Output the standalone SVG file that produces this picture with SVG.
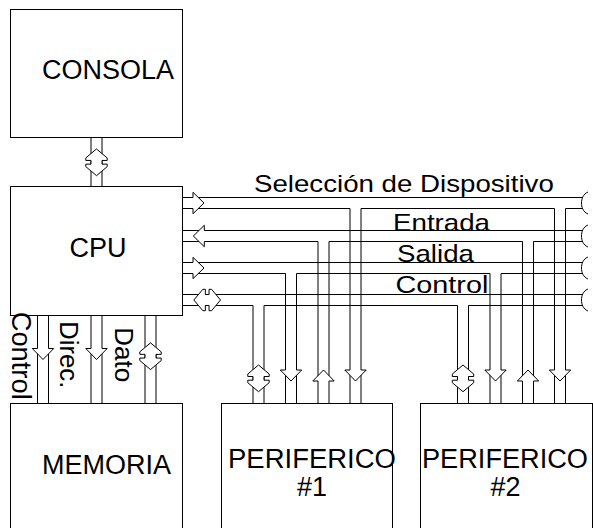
<svg xmlns="http://www.w3.org/2000/svg" width="593" height="528" viewBox="0 0 593 528">
<style>
.box{fill:none;stroke:#000;stroke-width:1}
.ln{fill:none;stroke:#000;stroke-width:1}
.ar{fill:#fff;stroke:#000;stroke-width:1}
.t{font-family:"Liberation Sans",Arial,sans-serif;fill:#000}
</style>
<defs>
<path id="ad" d="M-5.5,0 H-10.7 L0,11 L10.7,0 H5.5"/>
<path id="dd" d="M0,-13.35 L10.7,-4.35 V-1.85 H5.5 V1.85 H10.7 V4.35 L0,13.35 L-10.7,4.35 V1.85 H-5.5 V-1.85 H-10.7 V-4.35 Z"/>
</defs>
<rect width="593" height="528" fill="#fff"/>
<g id="connectors">
<path class="ln" d="M91,137.5 V186.5 M102,137.5 V186.5"/>
<path class="ln" d="M37.5,315.5 V403.5 M48.5,315.5 V403.5 M91,315.5 V403.5 M102,315.5 V403.5 M145,315.5 V403.5 M156,315.5 V403.5"/>
<path class="ln" d="M182.5,197.5 H582.5 M182.5,208.5 H350 M361,208.5 H554.5 M565.5,208.5 H582.5 M350,208.5 V403.5 M361,208.5 V403.5 M554.5,208.5 V403.5 M565.5,208.5 V403.5"/>
<path class="ln" d="M182.5,230.5 H582.5 M182.5,241.5 H318 M329,241.5 H522.5 M533.5,241.5 H582.5 M318,241.5 V403.5 M329,241.5 V403.5 M522.5,241.5 V403.5 M533.5,241.5 V403.5"/>
<path class="ln" d="M182.5,262.5 H582.5 M182.5,273.5 H285.5 M296.5,273.5 H490 M501,273.5 H582.5 M285.5,273.5 V403.5 M296.5,273.5 V403.5 M490,273.5 V403.5 M501,273.5 V403.5"/>
<path class="ln" d="M182.5,294.5 H582.5 M182.5,305.5 H253 M264,305.5 H457.5 M468.5,305.5 H582.5 M253,305.5 V403.5 M264,305.5 V403.5 M457.5,305.5 V403.5 M468.5,305.5 V403.5"/>
<path class="ln" d="M588,192 C583,194 581.5,199 581.5,203 C581.5,207 583,212 588,214"/>
<path class="ln" d="M588,225 C583,227 581.5,232 581.5,236 C581.5,240 583,245 588,247"/>
<path class="ln" d="M588,257 C583,259 581.5,264 581.5,268 C581.5,272 583,277 588,279"/>
<path class="ln" d="M588,289 C583,291 581.5,296 581.5,300 C581.5,304 583,309 588,311"/>
<use href="#dd" class="ar" transform="translate(96.5,162.3)"/>
<use href="#ad" class="ar" transform="translate(193,203) rotate(-90)"/>
<use href="#ad" class="ar" transform="translate(204.3,236) rotate(90)"/>
<use href="#ad" class="ar" transform="translate(193,268) rotate(-90)"/>
<use href="#dd" class="ar" transform="translate(207.2,300) rotate(90)"/>
<use href="#ad" class="ar" transform="translate(43,348.5)"/>
<use href="#ad" class="ar" transform="translate(96.5,348.5)"/>
<use href="#dd" class="ar" transform="translate(150.5,356.2)"/>
<use href="#dd" class="ar" transform="translate(258.5,378.35)"/>
<use href="#ad" class="ar" transform="translate(291,370)"/>
<use href="#ad" class="ar" transform="translate(323.5,381) rotate(180)"/>
<use href="#ad" class="ar" transform="translate(355.5,370)"/>
<use href="#dd" class="ar" transform="translate(463,378.35)"/>
<use href="#ad" class="ar" transform="translate(495.5,370)"/>
<use href="#ad" class="ar" transform="translate(528,381) rotate(180)"/>
<use href="#ad" class="ar" transform="translate(560,370)"/>
<text class="t" font-size="24" transform="translate(254,191.7) scale(1.153,1)">Selección de Dispositivo</text>
<text class="t" font-size="24" transform="translate(393,230.7) scale(1.155,1)">Entrada</text>
<text class="t" font-size="24" transform="translate(397,261.7) scale(1.154,1)">Salida</text>
<text class="t" font-size="24" transform="translate(395.5,293) scale(1.2,1)">Control</text>
<text class="t" font-size="28.5" textLength="88" lengthAdjust="spacingAndGlyphs" transform="translate(12.3,311.7) rotate(90)">Control</text>
<text class="t" font-size="25" textLength="67" lengthAdjust="spacingAndGlyphs" transform="translate(60,321.3) rotate(90)">Direc.</text>
<text class="t" font-size="25" textLength="55" lengthAdjust="spacingAndGlyphs" transform="translate(115,327.3) rotate(90)">Dato</text>
</g>
<g id="consola">
<rect class="box" x="10.5" y="9.5" width="172" height="128"/>
<text class="t" x="42" y="79" font-size="27">CONSOLA</text>
</g>
<g id="cpu">
<rect class="box" x="10.5" y="186.5" width="172" height="129"/>
<text class="t" x="69.5" y="257.3" font-size="27">CPU</text>
</g>
<g id="memoria">
<rect class="box" x="10.5" y="403.5" width="172" height="140"/>
<text class="t" x="42" y="474" font-size="27">MEMORIA</text>
</g>
<g id="periferico1">
<rect class="box" x="221.5" y="403.5" width="171" height="140"/>
<text class="t" x="228" y="468.3" font-size="27" textLength="168" lengthAdjust="spacingAndGlyphs">PERIFERICO</text>
<text class="t" x="297" y="496" font-size="27">#1</text>
</g>
<g id="periferico2">
<rect class="box" x="420.5" y="403.5" width="172" height="140"/>
<text class="t" x="422" y="468.3" font-size="27" textLength="166" lengthAdjust="spacingAndGlyphs">PERIFERICO</text>
<text class="t" x="490.5" y="496" font-size="27">#2</text>
</g>
</svg>
